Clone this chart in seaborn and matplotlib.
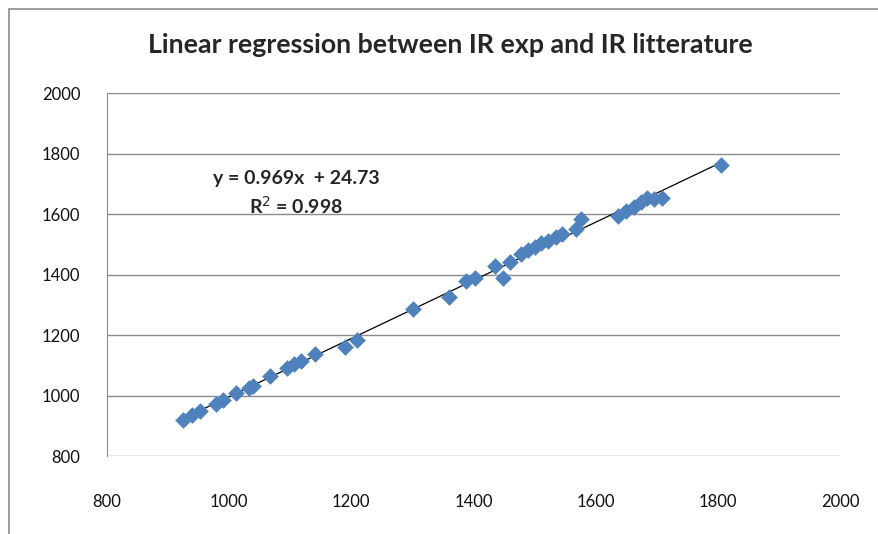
import seaborn as sns
import matplotlib.pyplot as plt
import numpy as np
import pandas as pd

# IR wavenumbers (cm-1): experimental vs literature values
ir_exp = [925, 940, 952, 978, 990, 1011, 1032, 1039, 1067, 1095,
          1107, 1118, 1140, 1189, 1210, 1301, 1360, 1387, 1402, 1436,
          1449, 1459, 1477, 1489, 1501, 1510, 1522, 1535, 1545, 1568,
          1576, 1637, 1649, 1662, 1674, 1684, 1695, 1708, 1806]
ir_lit = [919, 935, 949, 972, 985, 1008, 1025, 1031, 1064, 1091,
          1104, 1114, 1137, 1160, 1183, 1286, 1326, 1378, 1388, 1428,
          1388, 1441, 1468, 1481, 1491, 1504, 1511, 1524, 1534, 1550,
          1583, 1593, 1610, 1623, 1640, 1653, 1650, 1653, 1762]

x_ticks = [800, 1000, 1200, 1400, 1600, 1800, 2000]
y_ticks = [800, 1000, 1200, 1400, 1600, 1800, 2000]

df = pd.DataFrame({'exp': ir_exp, 'lit': ir_lit})

sns.set_style('white')
plt.rcParams['font.family'] = ['Lato', 'DejaVu Sans']

fig = plt.figure(figsize=(8.79, 5.34), dpi=100)
ax = fig.add_axes([0.1217, 0.146, 0.8339, 0.6798])

# Fitted trend line, then the points on top
sns.regplot(data=df, x='exp', y='lit', ax=ax, scatter=False, ci=None,
            truncate=True, color='black', line_kws={'linewidth': 0.9})
sns.scatterplot(data=df, x='exp', y='lit', ax=ax, marker='D', s=72,
                color='#4F81BD', linewidth=0, zorder=3)

ax.set_xlim(800, 2000)
ax.set_ylim(800, 2000)
ax.set_xticks(x_ticks)
ax.set_yticks(y_ticks)
ax.set_xlabel('')
ax.set_ylabel('')
ax.grid(axis='y', color='#8c8c8c', linewidth=1.0)
ax.set_axisbelow(True)
for side in ['top', 'right', 'bottom']:
    ax.spines[side].set_visible(False)
ax.spines['left'].set_color('#8c8c8c')
ax.tick_params(axis='x', length=0, pad=27, labelsize=12, labelcolor='#111111')
ax.tick_params(axis='y', length=0, pad=19, labelsize=12, labelcolor='#111111')

slope, intercept = np.polyfit(ir_exp, ir_lit, 1)
ax.text(0.258, 0.724, 'y = 0.969x  + 24.73\nR$^2$ = 0.998',
        transform=ax.transAxes, ha='center', va='center',
        fontsize=14, fontweight='bold', linespacing=1.45)

fig.text(0.512, 0.915, 'Linear regression between IR exp and IR litterature',
         ha='center', va='center', fontsize=19.3, fontweight='bold')

# outer chart frame (left and top edges visible)
fig.add_artist(plt.Rectangle((9 / 879, -0.2), 1.5, 1 - 9 / 534 + 0.2,
                             transform=fig.transFigure, fill=False,
                             edgecolor='#8c8c8c', linewidth=1.2))

plt.savefig('out.png', dpi=100)
